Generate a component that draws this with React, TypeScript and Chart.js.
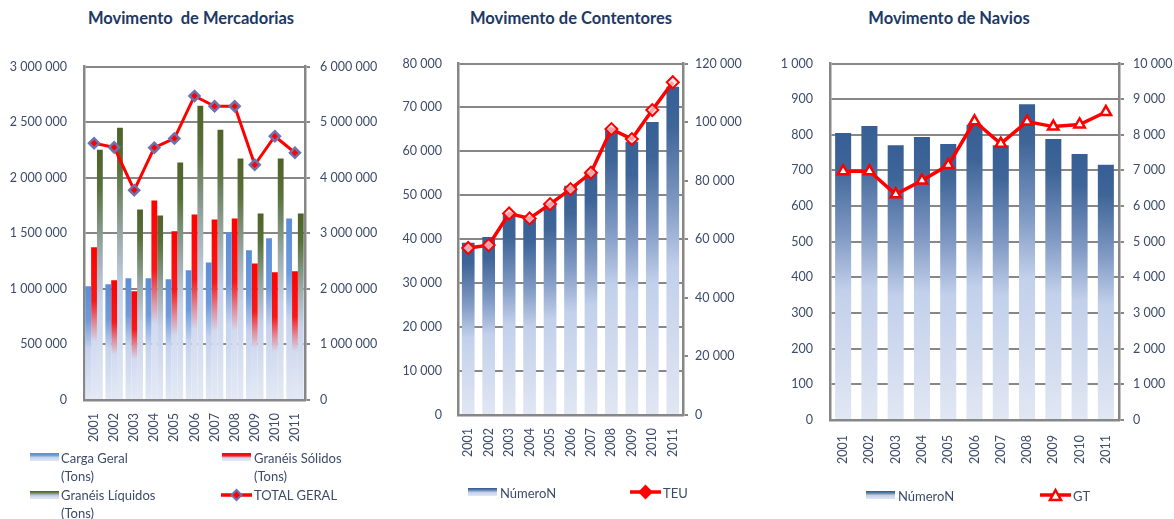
import React, { useEffect, useRef } from 'react';
import { Chart, registerables } from 'chart.js';

Chart.register(...registerables);

// ---------- DATA ----------
const years = ['2001', '2002', '2003', '2004', '2005', '2006', '2007', '2008', '2009', '2010', '2011'];

// Movimento de Mercadorias (Tons)
const cargaGeral = [1023000, 1041000, 1095000, 1095000, 1086000, 1167000, 1238000, 1508000, 1346000, 1454000, 1633000];
const graneisSolidos = [1373000, 1077000, 978000, 1795000, 1517000, 1669000, 1624000, 1633000, 1229000, 1149000, 1158000];
const graneisLiquidos = [2252000, 2450000, 1714000, 1660000, 2136000, 2647000, 2432000, 2172000, 1678000, 2172000, 1678000];
const totalGeral = [4620000, 4545000, 3775000, 4540000, 4705000, 5470000, 5285000, 5285000, 4232000, 4745000, 4448000];

// Movimento de Contentores
const numeroContentores = [39200, 40500, 45900, 44700, 48300, 52200, 55300, 65400, 62200, 66700, 74700];
const teu = [57000, 58000, 68800, 67100, 72000, 77100, 82700, 97600, 94200, 104100, 113600];

// Movimento de Navios
const numeroNavios = [805, 825, 771, 794, 774, 828, 771, 886, 788, 746, 716];
const gt = [6980, 6980, 6330, 6720, 7150, 8380, 7750, 8370, 8230, 8290, 8640];

// Axis ranges / ticks
const merc = { leftMax: 3000000, leftStep: 500000, rightMax: 6000000, rightStep: 1000000 };
const cont = { leftMax: 80000, leftStep: 10000, rightMax: 120000, rightStep: 20000 };
const nav = { leftMax: 1000, leftStep: 100, rightMax: 10000, rightStep: 1000 };

// ---------- STYLE ----------
const FONT = 'Lato, "Open Sans", sans-serif';
const TICK = '#3C4B6B';
const GRID = '#878787';
const TITLE = '#203864';

const blueStops: [number, string][] = [[0, '#5A8ED8'], [0.3, '#6F9BDB'], [0.55, '#C5D3EE'], [1, '#E2E8F4']];
const redStops: [number, string][] = [[0, '#FF0000'], [0.35, '#F81818'], [0.5, '#E08C9A'], [0.62, '#D2DAF0'], [1, '#E3E9F5']];
const greenStops: [number, string][] = [[0, '#4F6228'], [0.15, '#58703A'], [0.4, '#9AAAAA'], [0.6, '#C6D2EA'], [1, '#E3E9F5']];
const navyStops: [number, string][] = [[0, '#365F96'], [0.12, '#3F6598'], [0.35, '#7E98C2'], [0.55, '#C2D0EB'], [1, '#E1E7F3']];

const fmt = (v: any) => String(v).replace(/\B(?=(\d{3})+(?!\d))/g, ' ');

function gradient(stops: [number, string][]) {
  return (c: any) => {
    const chart = c.chart;
    if (!chart.chartArea || c.type !== 'data') return stops[0][1];
    const ys = chart.scales[c.dataset.yAxisID || 'y'];
    const top = ys.getPixelForValue(c.raw);
    const bottom = ys.getPixelForValue(0);
    if (!isFinite(top) || !isFinite(bottom) || bottom - top < 1) return stops[0][1];
    const g = chart.ctx.createLinearGradient(0, top, 0, bottom);
    stops.forEach(([o, col]) => g.addColorStop(o, col));
    return g;
  };
}

function yAxis(position: 'left' | 'right', max: number, step: number, width: number, padding: number) {
  const isLeft = position === 'left';
  return {
    position,
    min: 0,
    max,
    ticks: {
      stepSize: step,
      maxTicksLimit: 30,
      color: TICK,
      font: { family: FONT, size: 12.5 },
      padding,
      callback: (v: any) => fmt(v),
    },
    grid: {
      display: true,
      drawOnChartArea: isLeft,
      drawTicks: !isLeft,
      tickLength: 5,
      color: GRID,
      lineWidth: 2,
    },
    border: { display: true, color: GRID, width: 2.5 },
    afterFit: (s: any) => {
      s.width = width;
    },
  };
}

function xAxis(height: number, padding: number) {
  return {
    grid: { display: false, drawTicks: false },
    border: { display: true, color: GRID, width: 2.5 },
    ticks: {
      minRotation: 90,
      maxRotation: 90,
      autoSkip: false,
      padding,
      color: TICK,
      font: { family: FONT, size: 12.5 },
    },
    afterFit: (s: any) => {
      s.height = height;
    },
  };
}

function baseOptions(padTop: number, scales: any) {
  return {
    responsive: false,
    animation: false,
    maintainAspectRatio: false,
    layout: { padding: { top: padTop, left: 0, right: 0, bottom: 0 } },
    plugins: { legend: { display: false }, title: { display: false }, tooltip: { enabled: false } },
    scales,
  };
}

function mercConfig(): any {
  return {
    type: 'bar',
    data: {
      labels: years,
      datasets: [
        {
          type: 'line',
          label: 'TOTAL GERAL',
          data: totalGeral,
          yAxisID: 'y1',
          borderColor: '#FF0000',
          borderWidth: 3,
          pointStyle: 'rectRot',
          pointRadius: 5,
          pointBackgroundColor: '#FF0000',
          pointBorderColor: '#6F72AC',
          pointBorderWidth: 2.5,
          tension: 0,
          order: 0,
        },
        { label: 'Carga Geral (Tons)', data: cargaGeral, yAxisID: 'y', backgroundColor: gradient(blueStops), categoryPercentage: 0.87, barPercentage: 1, order: 1 },
        { label: 'Granéis Sólidos (Tons)', data: graneisSolidos, yAxisID: 'y', backgroundColor: gradient(redStops), categoryPercentage: 0.87, barPercentage: 1, order: 1 },
        { label: 'Granéis Líquidos (Tons)', data: graneisLiquidos, yAxisID: 'y', backgroundColor: gradient(greenStops), categoryPercentage: 0.87, barPercentage: 1, order: 1 },
      ],
    },
    options: baseOptions(15.7, {
      x: xAxis(119, 13),
      y: yAxis('left', merc.leftMax, merc.leftStep, 84, 17),
      y1: yAxis('right', merc.rightMax, merc.rightStep, 75, 10),
    }),
  };
}

function contConfig(): any {
  return {
    type: 'bar',
    data: {
      labels: years,
      datasets: [
        {
          type: 'line',
          label: 'TEU',
          data: teu,
          yAxisID: 'y1',
          borderColor: '#FF0000',
          borderWidth: 3.5,
          pointStyle: 'rectRot',
          pointRadius: 6,
          pointBackgroundColor: 'rgba(255,225,225,0.7)',
          pointBorderColor: '#FF0000',
          pointBorderWidth: 2,
          tension: 0,
          order: 0,
        },
        { label: 'NúmeroN', data: numeroContentores, yAxisID: 'y', backgroundColor: gradient(navyStops), categoryPercentage: 1, barPercentage: 0.62, order: 1 },
      ],
    },
    options: baseOptions(15.3, {
      x: xAxis(104, 13),
      y: yAxis('left', cont.leftMax, cont.leftStep, 68, 16),
      y1: yAxis('right', cont.rightMax, cont.rightStep, 77, 7),
    }),
  };
}

function navConfig(): any {
  return {
    type: 'bar',
    data: {
      labels: years,
      datasets: [
        {
          type: 'line',
          label: 'GT',
          data: gt,
          yAxisID: 'y1',
          borderColor: '#FF0000',
          borderWidth: 3.5,
          pointStyle: 'triangle',
          pointRadius: 6,
          pointBackgroundColor: '#FFFFFF',
          pointBorderColor: '#FF0000',
          pointBorderWidth: 2.5,
          tension: 0,
          order: 0,
        },
        { label: 'NúmeroN', data: numeroNavios, yAxisID: 'y', backgroundColor: gradient(navyStops), categoryPercentage: 1, barPercentage: 0.61, order: 1 },
      ],
    },
    options: baseOptions(15.3, {
      x: xAxis(99, 15),
      y: yAxis('left', nav.leftMax, nav.leftStep, 70, 17),
      y1: yAxis('right', nav.rightMax, nav.rightStep, 55, 9),
    }),
  };
}

function ChartCanvas({ make, left, top, width, height }: { make: () => any; left: number; top: number; width: number; height: number }) {
  const ref = useRef<HTMLCanvasElement | null>(null);
  useEffect(() => {
    if (!ref.current) return;
    const chart = new Chart(ref.current, make());
    return () => chart.destroy();
  }, []);
  return (
    <canvas
      ref={ref}
      width={width}
      height={height}
      style={{ position: 'absolute', left, top, width, height }}
    />
  );
}

function Title({ text, cx }: { text: string; cx: number }) {
  return (
    <div
      style={{
        position: 'absolute',
        left: cx - 150,
        width: 300,
        top: 7,
        textAlign: 'center',
        fontFamily: FONT,
        fontWeight: 700,
        fontSize: 16.5,
        color: TITLE,
        whiteSpace: 'pre',
        lineHeight: '22px',
      }}
    >
      {text}
    </div>
  );
}

function grad(stops: [number, string][]) {
  return 'linear-gradient(to bottom, ' + stops.map(([o, c]) => `${c} ${Math.round(o * 100)}%`).join(', ') + ')';
}

function BarSwatch({ left, cy, stops }: { left: number; cy: number; stops: [number, string][] }) {
  return <div style={{ position: 'absolute', left, top: cy - 4, width: 29, height: 8, background: grad(stops) }} />;
}

function LineSwatch({ left, cy, marker }: { left: number; cy: number; marker: 'diamondFilled' | 'diamond' | 'triangle' }) {
  const w = 31;
  return (
    <svg style={{ position: 'absolute', left, top: cy - 8 }} width={w} height={16}>
      <line x1={0} y1={8} x2={w} y2={8} stroke="#FF0000" strokeWidth={3.5} />
      {marker === 'diamondFilled' && (
        <polygon points={`${w / 2},3 ${w / 2 + 5},8 ${w / 2},13 ${w / 2 - 5},8`} fill="#FF0000" stroke="#6F72AC" strokeWidth={2} />
      )}
      {marker === 'diamond' && (
        <polygon points={`${w / 2},2 ${w / 2 + 6},8 ${w / 2},14 ${w / 2 - 6},8`} fill="#FF0000" stroke="#FF0000" strokeWidth={2} />
      )}
      {marker === 'triangle' && (
        <polygon points={`${w / 2},3 ${w / 2 + 5.5},13 ${w / 2 - 5.5},13`} fill="#FFFFFF" stroke="#FF0000" strokeWidth={2.5} />
      )}
    </svg>
  );
}

function LegendText({ left, cy, lines }: { left: number; cy: number; lines: string[] }) {
  return (
    <div
      style={{
        position: 'absolute',
        left,
        top: cy - 9,
        fontFamily: FONT,
        fontSize: 13,
        lineHeight: '18px',
        color: TICK,
        whiteSpace: 'pre',
      }}
    >
      {lines.map((l, i) => (
        <div key={i}>{l}</div>
      ))}
    </div>
  );
}

export default function App() {
  return (
    <div style={{ position: 'absolute', left: 0, top: 0, width: 1174, height: 519, background: '#FFFFFF', overflow: 'hidden' }}>
      <ChartCanvas make={mercConfig} left={0} top={41.5} width={380} height={477.5} />
      <ChartCanvas make={contConfig} left={390} top={39.5} width={370} height={479.5} />
      <ChartCanvas make={navConfig} left={760} top={38.5} width={414} height={480.5} />

      <Title text="Movimento  de Mercadorias" cx={191} />
      <Title text="Movimento de Contentores" cx={571} />
      <Title text="Movimento de Navios" cx={949} />

      {/* Legend: Mercadorias */}
      <BarSwatch left={30} cy={457} stops={blueStops} />
      <LegendText left={61} cy={458} lines={['Carga Geral', '(Tons)']} />
      <BarSwatch left={222} cy={457} stops={redStops} />
      <LegendText left={254} cy={458} lines={['Granéis Sólidos', '(Tons)']} />
      <BarSwatch left={30} cy={495} stops={greenStops} />
      <LegendText left={61} cy={495} lines={['Granéis Líquidos', '(Tons)']} />
      <LineSwatch left={221} cy={495} marker="diamondFilled" />
      <LegendText left={254} cy={495} lines={['TOTAL GERAL']} />

      {/* Legend: Contentores */}
      <BarSwatch left={468} cy={492} stops={navyStops} />
      <LegendText left={500} cy={493} lines={['NúmeroN']} />
      <LineSwatch left={630} cy={492} marker="diamond" />
      <LegendText left={663} cy={493} lines={['TEU']} />

      {/* Legend: Navios */}
      <BarSwatch left={866} cy={495} stops={navyStops} />
      <LegendText left={898} cy={496} lines={['NúmeroN']} />
      <LineSwatch left={1040} cy={495} marker="triangle" />
      <LegendText left={1073} cy={496} lines={['GT']} />
    </div>
  );
}
